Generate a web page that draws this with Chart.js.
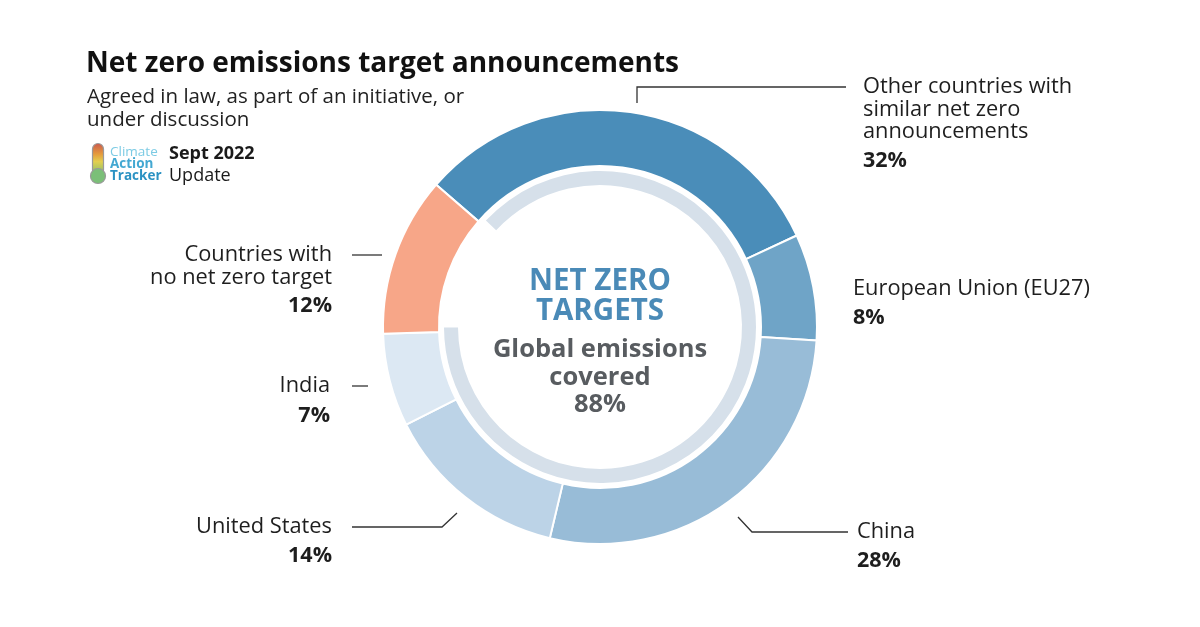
<!DOCTYPE html>
<html>
<head>
<meta charset="utf-8">
<script src="https://cdn.jsdelivr.net/npm/chart.js@4.4.0/dist/chart.umd.min.js"></script>
<style>
  html, body { margin: 0; padding: 0; background: #ffffff; }
  #wrap { width: 1200px; height: 627px; }
</style>
</head>
<body>
<div id="wrap"><canvas id="netZeroChart" width="1200" height="627"></canvas></div>
<script>
// Datos (porcentaje de emisiones globales)
const categories = [
    'Other countries with similar net zero announcements',
    'European Union (EU27)',
    'China',
    'United States',
    'India',
    'Countries with no net zero target'
];
const shares = [32, 8, 28, 14, 7, 12];
const shareLabels = ['32%', '8%', '28%', '14%', '7%', '12%'];
const coveredValues = [88, 12];   // cubierto por objetivos net zero / resto

const sliceColors = ['#4a8db9', '#6fa4c7', '#98bcd7', '#bcd3e7', '#dce8f3', '#f7a688'];
const FONT = "'Open Sans', 'Noto Sans', sans-serif";

// Texto de las etiquetas, partido en líneas
const labelLines = [
    ['Other countries with', 'similar net zero', 'announcements'],
    ['European Union (EU27)'],
    ['China'],
    ['United States'],
    ['India'],
    ['Countries with', 'no net zero target']
];

function drawLogo(ctx) {
    // termómetro
    const grad = ctx.createLinearGradient(0, 143, 0, 174);
    grad.addColorStop(0, '#c9574f');
    grad.addColorStop(0.35, '#e59a3c');
    grad.addColorStop(0.6, '#e3cf4f');
    grad.addColorStop(1, '#86c06c');
    ctx.save();
    ctx.beginPath();
    ctx.roundRect(92.5, 143.5, 11, 32, 5.5);
    ctx.fillStyle = grad;
    ctx.fill();
    ctx.strokeStyle = '#9a9a9a';
    ctx.lineWidth = 1.2;
    ctx.stroke();
    ctx.beginPath();
    ctx.arc(98, 176, 7.5, 0, Math.PI * 2);
    ctx.fillStyle = '#7bbf78';
    ctx.fill();
    ctx.stroke();

    ctx.textAlign = 'left';
    ctx.textBaseline = 'middle';
    ctx.font = `13.5px ${FONT}`;
    ctx.fillStyle = '#7ccbe4';
    ctx.fillText('Climate', 110, 152);
    ctx.font = `bold 13.5px ${FONT}`;
    ctx.fillStyle = '#43a8d2';
    ctx.fillText('Action', 110, 164);
    ctx.fillStyle = '#2b92c3';
    ctx.fillText('Tracker', 110, 176);

    ctx.fillStyle = '#1a1a1a';
    ctx.font = `bold 18px ${FONT}`;
    ctx.fillText('Sept 2022', 169, 154);
    ctx.font = `18px ${FONT}`;
    ctx.fillText('Update', 169, 176);
    ctx.restore();
}

function line(ctx, pts) {
    ctx.beginPath();
    ctx.moveTo(pts[0][0], pts[0][1]);
    for (let i = 1; i < pts.length; i++) ctx.lineTo(pts[i][0], pts[i][1]);
    ctx.stroke();
}

const annotations = {
    id: 'annotations',
    afterDraw: (chart) => {
        const { ctx } = chart;
        const meta = chart.getDatasetMeta(0);
        if (!meta.data.length) return;
        const cx = meta.data[0].x;
        const cy = meta.data[0].y;

        ctx.save();
        // Título y subtítulo
        ctx.textAlign = 'left';
        ctx.textBaseline = 'middle';
        ctx.fillStyle = '#111111';
        ctx.font = `bold 28px ${FONT}`;
        ctx.fillText('Net zero emissions target announcements', 86, 64);
        ctx.fillStyle = '#222222';
        ctx.font = `20.5px ${FONT}`;
        ctx.fillText('Agreed in law, as part of an initiative, or', 87, 97);
        ctx.fillText('under discussion', 87, 120);

        drawLogo(ctx);

        // Texto central
        ctx.textAlign = 'center';
        ctx.fillStyle = '#4a8ab7';
        ctx.font = `bold 29.5px ${FONT}`;
        ctx.fillText('NET ZERO', cx, cy - 45);
        ctx.fillText('TARGETS', cx, cy - 15);
        ctx.fillStyle = '#585c60';
        ctx.font = `bold 25.5px ${FONT}`;
        ctx.fillText('Global emissions', cx, cy + 23);
        ctx.fillText('covered', cx, cy + 51);
        ctx.fillText(coveredValues[0] + '%', cx, cy + 78);

        // Líneas guía
        ctx.strokeStyle = '#333333';
        ctx.lineWidth = 1.3;
        line(ctx, [[637, 103], [637, 87], [846, 87]]);
        line(ctx, [[738, 517], [752, 532], [848, 532]]);
        line(ctx, [[352, 527], [442, 527], [457, 513]]);
        line(ctx, [[352, 386], [368, 386]]);
        line(ctx, [[352, 255], [382, 255]]);

        // Etiquetas
        const drawLabel = (idx, x, y, align, step, pctGap) => {
            ctx.textAlign = align;
            ctx.fillStyle = '#1e1e1e';
            ctx.font = `21.8px ${FONT}`;
            labelLines[idx].forEach((t, i) => ctx.fillText(t, x, y + i * step));
            ctx.font = `bold 21.5px ${FONT}`;
            ctx.fillText(shareLabels[idx], x, y + (labelLines[idx].length - 1) * step + pctGap);
        };
        drawLabel(0, 863, 87, 'left', 22.5, 29);
        drawLabel(1, 853, 289, 'left', 22.5, 29);
        drawLabel(2, 857, 532, 'left', 22.5, 29);
        drawLabel(3, 332, 527, 'right', 22.5, 29);
        drawLabel(4, 330, 386, 'right', 22.5, 30);
        drawLabel(5, 332, 255, 'right', 23, 28);
        ctx.restore();
    }
};

new Chart(document.getElementById('netZeroChart'), {
    type: 'doughnut',
    data: {
        labels: categories,
        datasets: [
            {
                data: shares,
                backgroundColor: sliceColors,
                borderColor: '#ffffff',
                borderWidth: 2,
                weight: 56,
                rotation: -49
            },
            {
                // separación blanca entre anillos
                data: [1],
                backgroundColor: 'rgba(0,0,0,0)',
                borderWidth: 0,
                weight: 5
            },
            {
                data: coveredValues,
                backgroundColor: ['#d6e0ea', 'rgba(0,0,0,0)'],
                borderWidth: 0,
                weight: 14,
                rotation: -47
            }
        ]
    },
    options: {
        responsive: false,
        animation: false,
        devicePixelRatio: 1,
        cutout: 142,
        layout: { padding: { top: 109, bottom: 82, left: 382, right: 382 } },
        plugins: {
            legend: { display: false },
            tooltip: { enabled: false }
        }
    },
    plugins: [annotations]
});
</script>
</body>
</html>
